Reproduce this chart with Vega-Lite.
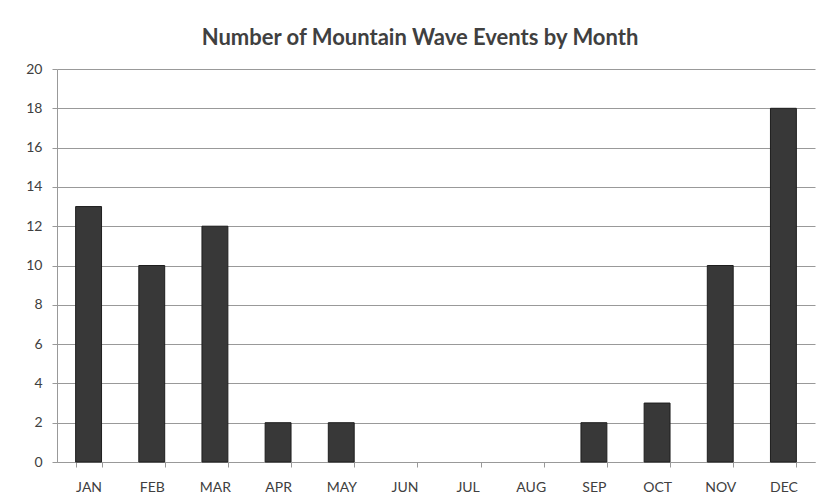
{
  "$schema": "https://vega.github.io/schema/vega-lite/v6.json",
  "width": 758,
  "height": 393,
  "autosize": {"type": "none"},
  "padding": {"left": 57, "top": 69, "right": 4, "bottom": 42},
  "background": "white",
  "title": {
    "text": "Number of Mountain Wave Events by Month",
    "font": "Lato",
    "fontSize": 22,
    "fontWeight": "bold",
    "color": "#404040",
    "anchor": "middle",
    "frame": "group",
    "dx": -16,
    "offset": 12
  },
  "data": {
    "values": [
      {"month": "JAN", "events": 13},
      {"month": "FEB", "events": 10},
      {"month": "MAR", "events": 12},
      {"month": "APR", "events": 2},
      {"month": "MAY", "events": 2},
      {"month": "JUN", "events": 0},
      {"month": "JUL", "events": 0},
      {"month": "AUG", "events": 0},
      {"month": "SEP", "events": 2},
      {"month": "OCT", "events": 3},
      {"month": "NOV", "events": 10},
      {"month": "DEC", "events": 18}
    ]
  },
  "mark": {"type": "bar", "fill": "#383838", "stroke": "#1e1e1e", "strokeWidth": 1},
  "encoding": {
    "x": {
      "field": "month",
      "type": "nominal",
      "sort": null,
      "scale": {"paddingInner": 0.59, "paddingOuter": 0.295},
      "axis": {
        "title": null,
        "labelAngle": 0,
        "labelFont": "Lato",
        "labelFontSize": 14,
        "labelColor": "#404040",
        "labelPadding": 13,
        "domainColor": "#999999",
        "tickColor": "#999999",
        "tickBand": "extent",
        "tickSize": 5,
        "grid": false
      }
    },
    "y": {
      "field": "events",
      "type": "quantitative",
      "scale": {"domain": [0, 20], "nice": false},
      "axis": {
        "title": null,
        "values": [0, 2, 4, 6, 8, 10, 12, 14, 16, 18, 20],
        "labelFont": "Lato",
        "labelFontSize": 14,
        "labelColor": "#404040",
        "labelPadding": 10,
        "domainColor": "#999999",
        "tickColor": "#999999",
        "tickSize": 5,
        "gridColor": "#999999",
        "gridWidth": 1
      }
    },
    "strokeOpacity": {
      "condition": {"test": "datum.events == 0", "value": 0},
      "value": 1
    }
  },
  "config": {"view": {"stroke": null}}
}
